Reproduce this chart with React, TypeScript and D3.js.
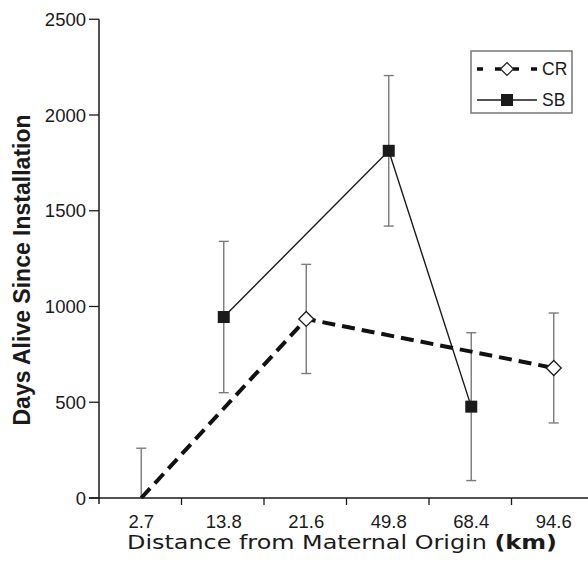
import React from "react";
import * as d3 from "d3";

const categories = ["2.7", "13.8", "21.6", "49.8", "68.4", "94.6"];
const crValues: (number | null)[] = [0, null, 935, null, null, 679];
const crErrors: (number | null)[] = [260, null, 285, null, null, 287];
const sbValues: (number | null)[] = [null, 945, null, 1813, 477, null];
const sbErrors: (number | null)[] = [null, 395, null, 393, 386, null];
const yTicks = [0, 500, 1000, 1500, 2000, 2500];

const W = 588;
const H = 561;
const x0 = 99;
const band = 82.5;
const yBottom = 498;
const yTop = 19.25;

export default function App() {
  const x = d3
    .scaleBand<string>()
    .domain(categories)
    .range([x0, x0 + band * categories.length])
    .paddingInner(0)
    .paddingOuter(0);
  const y = d3.scaleLinear().domain([0, 2500]).range([yBottom, yTop]);
  const cx = (c: string) => (x(c) as number) + x.bandwidth() / 2 + 1;

  const crPts = categories
    .map((c, i) => ({ c, v: crValues[i], e: crErrors[i] }))
    .filter((d) => d.v !== null) as { c: string; v: number; e: number }[];
  const sbPts = categories
    .map((c, i) => ({ c, v: sbValues[i], e: sbErrors[i] }))
    .filter((d) => d.v !== null) as { c: string; v: number; e: number }[];

  const line = d3
    .line<{ c: string; v: number }>()
    .x((d) => cx(d.c))
    .y((d) => y(d.v));

  const errColor = "#7a7a7a";
  const errBars = (pts: { c: string; v: number; e: number }[]) =>
    pts.map((d, i) => {
      const xx = cx(d.c);
      const top = y(Math.min(2500, d.v + d.e));
      const bot = y(Math.max(0, d.v - d.e));
      return (
        <g key={d.c + i} stroke={errColor} strokeWidth={1.4}>
          <line x1={xx} x2={xx} y1={top} y2={bot} />
          <line x1={xx - 5} x2={xx + 5} y1={top} y2={top} />
          {d.v - d.e > 0 && <line x1={xx - 5} x2={xx + 5} y1={bot} y2={bot} />}
        </g>
      );
    });

  const diamond = (px: number, py: number, r = 7.5) =>
    `M${px},${py - r}L${px + r},${py}L${px},${py + r}L${px - r},${py}Z`;

  const axisColor = "#1a1a1a";
  const textColor = "#1a1a1a";

  return (
    <svg
      width={W}
      height={H}
      style={{ position: "absolute", left: 0, top: 0, background: "#fff" }}
      fontFamily="'Liberation Sans', Arial, sans-serif"
    >
      <rect x={0} y={0} width={W} height={H} fill="#fff" />
      {/* error bars */}
      {errBars(sbPts)}
      {errBars(crPts)}
      {/* SB line */}
      <path d={line(sbPts) || ""} fill="none" stroke="#1a1a1a" strokeWidth={1.4} />
      {/* CR line */}
      <path
        d={line(crPts) || ""}
        fill="none"
        stroke="#111"
        strokeWidth={4}
        strokeDasharray="13,7"
      />
      {/* markers */}
      {sbPts.map((d) => (
        <rect
          key={"sb" + d.c}
          x={cx(d.c) - 6}
          y={y(d.v) - 6}
          width={12}
          height={12}
          fill="#1a1a1a"
        />
      ))}
      {crPts
        .filter((d) => d.v > 0)
        .map((d) => (
          <path
            key={"cr" + d.c}
            d={diamond(cx(d.c), y(d.v))}
            fill="#fff"
            stroke="#1a1a1a"
            strokeWidth={1.3}
          />
        ))}
      {/* axes */}
      <line x1={x0} x2={x0} y1={yTop} y2={yBottom + 6} stroke={axisColor} strokeWidth={1.5} />
      <line x1={x0 - 10} x2={W} y1={yBottom} y2={yBottom} stroke={axisColor} strokeWidth={1.5} />
      {yTicks.map((t) => (
        <g key={"yt" + t}>
          <line x1={x0 - 10} x2={x0} y1={y(t)} y2={y(t)} stroke={axisColor} strokeWidth={1.3} />
          <text
            x={x0 - 13}
            y={y(t)}
            dy="0.36em"
            textAnchor="end"
            fontSize={18.5}
            fill={textColor}
          >
            {t}
          </text>
        </g>
      ))}
      {categories.map((c, i) => (
        <g key={"xt" + c}>
          <line
            x1={x0 + band * (i + 1)}
            x2={x0 + band * (i + 1)}
            y1={yBottom}
            y2={yBottom + 7}
            stroke={axisColor}
            strokeWidth={1.3}
          />
          <text x={cx(c)} y={yBottom + 30} textAnchor="middle" fontSize={18.5} fill={textColor}>
            {c}
          </text>
        </g>
      ))}
      {/* axis titles */}
      <text
        x={342}
        y={549}
        textAnchor="middle"
        fontSize={20}
        fill={textColor}
        fontFamily="'DejaVu Sans', sans-serif"
        textLength={430}
        lengthAdjust="spacingAndGlyphs"
      >
        Distance from Maternal Origin <tspan fontWeight="bold">(km)</tspan>
      </text>
      <text
        transform={`translate(30, 270) rotate(-90)`}
        textAnchor="middle"
        fontSize={23}
        fontWeight="bold"
        fill={textColor}
      >
        Days Alive Since Installation
      </text>
      {/* legend */}
      <rect x={471} y={51} width={101} height={62} fill="#fff" stroke="#777" strokeWidth={1.5} />
      <line x1={477} x2={537} y1={69} y2={69} stroke="#111" strokeWidth={3.5} strokeDasharray="6,12" />
      <path d={diamond(507, 69, 6.5)} fill="#fff" stroke="#1a1a1a" strokeWidth={1.2} />
      <text x={542} y={69} dy="0.36em" fontSize={17.5} fill={textColor}>
        CR
      </text>
      <line x1={477} x2={537} y1={100} y2={100} stroke="#1a1a1a" strokeWidth={1.3} />
      <rect x={501} y={94} width={12} height={12} fill="#1a1a1a" />
      <text x={542} y={100} dy="0.36em" fontSize={17.5} fill={textColor}>
        SB
      </text>
    </svg>
  );
}
